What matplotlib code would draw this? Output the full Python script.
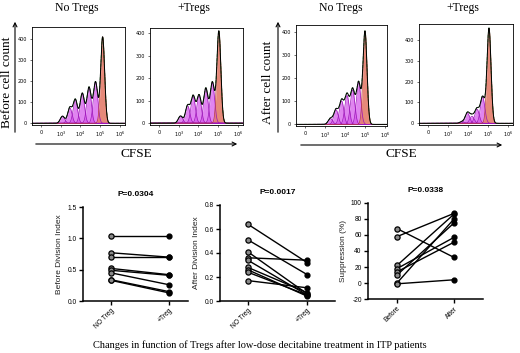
import numpy as np
import matplotlib
matplotlib.use('Agg')
from matplotlib import pyplot as plt

# ---- top: CFSE histograms (generation peaks: position in decades, height in counts)
hist_titles = ['No Tregs', '+Tregs', 'No Tregs', '+Tregs']
parent_pos = [5.12, 5.03, 5.00, 5.05]
parent_height = [410, 410, 404, 455]
gen_pos_1 = [4.76, 4.43, 4.09, 3.74, 3.46, 3.09]
gen_height_1 = [196, 170, 142, 112, 74, 34]
gen_pos_2 = [4.70, 4.37, 4.03, 3.73, 3.45, 3.09]
gen_height_2 = [182, 155, 124, 120, 78, 32]
gen_pos_3 = [4.68, 4.38, 4.10, 3.83, 3.55, 3.27]
gen_height_3 = [182, 150, 126, 102, 64, 26]
gen_pos_4 = [4.73, 4.45, 4.20, 3.97, 3.70]
gen_height_4 = [126, 68, 34, 50, 8]
hist_ylims = [(-8, 457), (-8, 424), (-7, 432), (-8, 476)]
cfse_ticks = [2, 3, 4, 5, 6]
cfse_labels = ['0', '$10^3$', '$10^4$', '$10^5$', '$10^6$']
count_ticks = [0, 100, 200, 300, 400]

# ---- bottom: paired plots
pair_labels_1 = ['NO Treg', '+Treg']
before_no = [1.04, 0.77, 0.70, 0.52, 0.49, 0.45, 0.34, 0.33]
before_plus = [1.04, 0.70, 0.70, 0.42, 0.41, 0.26, 0.15, 0.13]
after_no = [0.64, 0.51, 0.41, 0.36, 0.34, 0.28, 0.26, 0.24, 0.17]
after_plus = [0.32, 0.22, 0.06, 0.34, 0.05, 0.07, 0.04, 0.05, 0.11]
pair_labels_2 = ['Before', 'After']
supp_before = [68, 58, 22, 18, 14, 10, 0, -1]
supp_after = [32, 87, 86, 57, 51, 75, 80, 4]
p_values = ['P=0.0304', 'P=0.0017', 'P=0.0338']

serif = 'Liberation Serif'
sans = 'Liberation Sans'

fig = plt.figure(figsize=(5.2, 3.53), dpi=100)
W, H = 520.0, 353.0


def box(x0, y0, x1, y1):
    return [x0 / W, 1 - y1 / H, (x1 - x0) / W, (y1 - y0) / H]


def gauss(xs, mu, h, s):
    return h * np.exp(-0.5 * ((xs - mu) / s) ** 2)


xs = np.linspace(1.5, 6.3, 800)
hist_boxes = [box(32, 27, 125, 125), box(150, 28, 243, 125),
              box(296, 25, 387, 126), box(419, 24, 513, 125)]
title_x = [77, 194, 341, 463]
gens = [(gen_pos_1, gen_height_1), (gen_pos_2, gen_height_2),
        (gen_pos_3, gen_height_3), (gen_pos_4, gen_height_4)]

for i in range(4):
    ax = fig.add_axes(hist_boxes[i])
    total = np.zeros_like(xs)
    for mu, h in zip(*gens[i]):
        g = gauss(xs, mu, h, 0.11)
        total += g
        ax.fill_between(xs, g, color='#d452ea', alpha=0.7, lw=0)
        ax.plot(xs, g, color='#9c14b8', lw=0.5)
    g = gauss(xs, parent_pos[i], parent_height[i], 0.10)
    total += g
    ax.fill_between(xs, g, color='#e47c6a', alpha=0.9, lw=0)
    ax.plot(xs, g, color='#b83a36', lw=0.5)
    ax.plot(xs, total, color='#3a9a3a', lw=0.6, ls='--')
    ax.plot(xs, total, color='black', lw=0.7)
    ax.set_xlim(1.55, 6.25 if i != 2 else 6.1)
    ax.set_ylim(*hist_ylims[i])
    ax.set_xticks(cfse_ticks)
    ax.set_xticklabels(cfse_labels)
    ax.set_yticks(count_ticks)
    ax.tick_params(labelsize=3.5, length=1.5, width=0.4, pad=2)
    for s in ax.spines.values():
        s.set_linewidth(0.6)
    fig.text(title_x[i] / W, 1 - 7.5 / H, hist_titles[i], ha='center', va='center',
             family=serif, fontsize=8.5)

# arrows and labels of the histogram groups
for x_v, x_h0, x_h1, y_h, lab, x_lab in [(15, 33, 240, 144, 'Before cell count', 7),
                                         (278, 298, 505, 145, 'After cell count', 268)]:
    fig.add_artist(matplotlib.patches.FancyArrowPatch(
        (x_v / W, 1 - 135 / H), (x_v / W, 1 - 19 / H), transform=fig.transFigure,
        arrowstyle='->', mutation_scale=7, lw=0.8, color='black'))
    fig.add_artist(matplotlib.patches.FancyArrowPatch(
        (x_h0 / W, 1 - y_h / H), (x_h1 / W, 1 - y_h / H), transform=fig.transFigure,
        arrowstyle='->', mutation_scale=7, lw=0.8, color='black'))
    fig.text(x_lab / W, 1 - 82 / H, lab, rotation=90, ha='center', va='center',
             family=serif, fontsize=9.5)
    fig.text((x_h0 + x_h1) / 2 / W, 1 - 154 / H, 'CFSE', ha='center', va='center',
             family=serif, fontsize=9.5)

# ---- paired plots
pair_sets = [
    (box(83, 207, 188, 301), before_no, before_plus, pair_labels_1, (0, 1.5),
     [0, 0.5, 1.0, 1.5], 'Before Division Index', (-0.48, 1.33), '%.1f'),
    (box(220, 205, 335, 301), after_no, after_plus, pair_labels_1, (0, 0.8),
     [0, 0.2, 0.4, 0.6, 0.8], 'After Division Index', (-0.47, 1.47), '%.1f'),
    (box(368, 203, 483, 299), supp_before, supp_after, pair_labels_2, (-20, 100),
     [-20, 0, 20, 40, 60, 80, 100], 'Suppression (%)', (-0.51, 1.51), '%d'),
]
for k, (rect, left, right, labs, ylim, yt, ylab, xlim, fmt) in enumerate(pair_sets):
    ax = fig.add_axes(rect)
    for a, b in zip(left, right):
        ax.plot([0, 1], [a, b], color='black', lw=1.0, zorder=2)
    ax.scatter(np.zeros(len(left)), left, s=14, facecolor='#8a8a8a',
               edgecolor='black', linewidth=0.9, zorder=3, clip_on=False)
    ax.scatter(np.ones(len(right)), right, s=12, color='black', zorder=3, clip_on=False)
    ax.set_xlim(*xlim)
    ax.set_ylim(*ylim)
    ax.set_yticks(yt)
    ax.set_yticklabels([fmt % v for v in yt], family=sans, fontsize=4.8)
    ax.set_xticks([0, 1])
    ax.set_xticklabels(labs, rotation=45, ha='right', rotation_mode='anchor',
                       family=sans, fontsize=4.8)
    ax.spines['top'].set_visible(False)
    ax.spines['right'].set_visible(False)
    ax.spines['left'].set_linewidth(1.1)
    ax.spines['bottom'].set_linewidth(1.1)
    ax.tick_params(length=3, width=1.0, pad=1.5)
    ax.set_ylabel(ylab, family=sans, fontsize=6, labelpad=3, color='#222222')
    ax.set_title(p_values[k], family=sans, fontsize=6, fontweight='bold', pad=8)

fig.text(260 / W, 1 - 345 / H,
         'Changes in function of Tregs after low-dose decitabine treatment in ITP patients',
         ha='center', va='center', family=serif, fontsize=7.5)

fig.savefig('out.png', dpi=100)
